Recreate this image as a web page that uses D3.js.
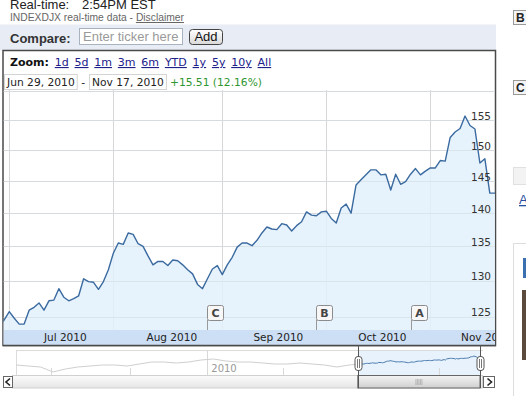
<!DOCTYPE html>
<html><head><meta charset="utf-8">
<script src="https://cdn.jsdelivr.net/npm/d3@7"></script>
<style>body{margin:0;background:#fff;overflow:hidden}svg{display:block}</style>
</head><body>
<svg id="c" width="526" height="396"></svg>
<script>
// ---------------- DATA ----------------
const dates = [
"2010-06-29","2010-06-30",
"2010-07-01","2010-07-02","2010-07-06","2010-07-07","2010-07-08","2010-07-09","2010-07-12","2010-07-13","2010-07-14","2010-07-15","2010-07-16","2010-07-19","2010-07-20","2010-07-21","2010-07-22","2010-07-23","2010-07-26","2010-07-27","2010-07-28","2010-07-29","2010-07-30",
"2010-08-02","2010-08-03","2010-08-04","2010-08-05","2010-08-06","2010-08-09","2010-08-10","2010-08-11","2010-08-12","2010-08-13","2010-08-16","2010-08-17","2010-08-18","2010-08-19","2010-08-20","2010-08-23","2010-08-24","2010-08-25","2010-08-26","2010-08-27","2010-08-30","2010-08-31",
"2010-09-01","2010-09-02","2010-09-03","2010-09-07","2010-09-08","2010-09-09","2010-09-10","2010-09-13","2010-09-14","2010-09-15","2010-09-16","2010-09-17","2010-09-20","2010-09-21","2010-09-22","2010-09-23","2010-09-24","2010-09-27","2010-09-28","2010-09-29","2010-09-30",
"2010-10-01","2010-10-04","2010-10-05","2010-10-06","2010-10-07","2010-10-08","2010-10-11","2010-10-12","2010-10-13","2010-10-14","2010-10-15","2010-10-18","2010-10-19","2010-10-20","2010-10-21","2010-10-22","2010-10-25","2010-10-26","2010-10-27","2010-10-28","2010-10-29",
"2010-11-01","2010-11-02","2010-11-03","2010-11-04","2010-11-05","2010-11-08","2010-11-09","2010-11-10","2010-11-11","2010-11-12","2010-11-15","2010-11-16","2010-11-17"
];
const closeValues = [
123.6,124.6,125.7,124.8,124.0,124.0,125.9,126.3,126.9,125.9,
127.2,127.3,128.9,127.7,127.2,127.5,127.9,130.3,129.9,129.8,
128.8,129.9,131.6,134.0,135.5,135.3,137.0,136.8,135.4,135.0,
133.6,132.3,132.8,132.8,132.2,133.0,132.9,132.3,131.6,131.0,
129.5,128.9,130.3,131.7,132.2,130.9,132.3,133.4,134.9,135.5,
135.5,135.1,135.9,137.0,137.9,137.6,137.5,138.4,138.2,137.3,
138.1,138.7,140.2,139.7,139.6,140.2,140.3,139.2,138.5,140.8,
141.4,140.0,144.4,145.2,146.0,146.8,146.8,146.0,146.1,143.6,
146.1,144.5,144.9,146.1,147.0,146.0,146.6,147.1,147.1,148.3,
148.2,152.1,153.0,153.6,155.7,154.1,153.5,147.9,148.6,143.1
];
const yGridValues = [125,130,135,140,145,150,155,160];
const yTickLabels = ["125","130","135","140","145","150","155"];
const monthStartDates = ["2010-07-01","2010-08-02","2010-09-01","2010-10-01","2010-11-01"];
const monthLabels = ["Jul 2010","Aug 2010","Sep 2010","Oct 2010","Nov 2010"];
const flagLabels = ["C","B","A"];
const flagDates = ["2010-08-27","2010-09-29","2010-10-26"];
const zoomLinks = ["1d","5d","1m","3m","6m","YTD","1y","5y","10y","All"];
const rangeStart = "Jun 29, 2010";
const rangeEnd = "Nov 17, 2010";
const changeText = "+15.51 (12.16%)";
// navigator: history before the range, one value every 10 trading days (offsets from Jun 29, 2010)
const navHistoryOffsets = [-277,-267,-257,-247,-237,-227,-217,-207,-197,-187,-177,-167,-157,-147,-137,-127,-117,-107,-97,-87,-77,-67,-57,-47,-37,-27,-17,-7];
const navHistoryValues = [120,116,112,92,104,112,116,120,120,116,124,132,132,128,132,140,144,136,132,132,128,124,124,128,124,120,112,120];
const navQuarterOffsets = [-249,-185,-61,66];
const navYearOffset = -122;
const navYearLabel = "2010";

// ---------------- SETUP ----------------
const svg = d3.select("#c");
const SANS = "'DejaVu Sans', Verdana, sans-serif";
const ARIAL = "'Liberation Sans', Arial, sans-serif";
const plot = {left:3.5, right:495, top:90, bottom:330};
const x = d3.scaleLinear().domain([0, dates.length-1]).range([-0.6, 489.8]);
const y = d3.scaleLog().domain([123.2, 160.2]).range([plot.bottom, plot.top]);
const idx = d => dates.indexOf(d);

const defs = svg.append("defs");
defs.append("clipPath").attr("id","plotClip").append("rect")
  .attr("x",plot.left).attr("y",plot.top).attr("width",plot.right-plot.left).attr("height",plot.bottom-plot.top);
defs.append("clipPath").attr("id","bandClip").append("rect")
  .attr("x",plot.left).attr("y",plot.bottom).attr("width",plot.right-plot.left).attr("height",15);
const g1 = defs.append("linearGradient").attr("id","btnGrad").attr("x1",0).attr("y1",0).attr("x2",0).attr("y2",1);
g1.append("stop").attr("offset","0").attr("stop-color","#ffffff");
g1.append("stop").attr("offset","1").attr("stop-color","#d9d9d9");
const g2 = defs.append("linearGradient").attr("id","trackGrad").attr("x1",0).attr("y1",0).attr("x2",0).attr("y2",1);
g2.append("stop").attr("offset","0").attr("stop-color","#fbfbfb");
g2.append("stop").attr("offset","1").attr("stop-color","#e6e6e6");
const g3 = defs.append("linearGradient").attr("id","thumbGrad").attr("x1",0).attr("y1",0).attr("x2",0).attr("y2",1);
g3.append("stop").attr("offset","0").attr("stop-color","#f4f4f4");
g3.append("stop").attr("offset","1").attr("stop-color","#cfcfcf");

// ---------------- HEADER ----------------
const hdr = svg.append("text").attr("x",10).attr("y",8.5).attr("font-family",ARIAL).attr("font-size",13).attr("fill","#222");
hdr.append("tspan").text("Real-time:");
hdr.append("tspan").attr("x",82).text("2:54PM EST");
const sub = svg.append("text").attr("x",10).attr("y",21).attr("font-family",ARIAL).attr("font-size",10.3).attr("fill","#666");
sub.append("tspan").text("INDEXDJX real-time data - ");
sub.append("tspan").attr("text-decoration","underline").text("Disclaimer");

// compare bar
svg.append("rect").attr("x",0).attr("y",24.5).attr("width",496).attr("height",26).attr("fill","#e7ecf5");
svg.append("text").attr("x",10).attr("y",42.5).attr("font-family",ARIAL).attr("font-weight","bold").attr("font-size",13).attr("fill","#333").text("Compare:");
svg.append("rect").attr("x",79.5).attr("y",28.5).attr("width",103).attr("height",16).attr("fill","#fff").attr("stroke","#a9b3c0");
svg.append("text").attr("x",83).attr("y",41).attr("font-family",ARIAL).attr("font-size",13).attr("fill","#9a9a9a").text("Enter ticker here");
svg.append("rect").attr("x",189.5).attr("y",29.5).attr("width",33).attr("height",15).attr("rx",3).attr("fill","url(#btnGrad)").attr("stroke","#444");
svg.append("text").attr("x",206).attr("y",41).attr("text-anchor","middle").attr("font-family",ARIAL).attr("font-size",13).attr("fill","#111").text("Add");

// chart frame
svg.append("rect").attr("x",3).attr("y",50.5).attr("width",492.5).attr("height",295).attr("fill","#fff").attr("stroke","#4a4a4a").attr("stroke-width",1.5);

// zoom row
const zr = svg.append("g").attr("font-family",SANS).attr("font-size",11);
const zl = zr.append("text").attr("x",10).attr("y",66).attr("font-weight","bold").attr("fill","#111").text("Zoom:");
let zx = 10 + zl.node().getComputedTextLength() + 5.8;
zoomLinks.forEach(t => {
  const el = zr.append("text").attr("x",zx).attr("y",66).attr("fill","#20208a").attr("text-decoration","underline").text(t);
  zx += el.node().getComputedTextLength() + 5.8;
});

// date row
const dr = svg.append("g").attr("font-family",SANS).attr("font-size",10.7);
const t1 = dr.append("text").attr("x",7).attr("y",86).attr("fill","#222").text(rangeStart);
const w1 = t1.node().getComputedTextLength();
dr.insert("rect","text").attr("x",4.5).attr("y",74.5).attr("width",w1+5).attr("height",15).attr("fill","none").attr("stroke","#d4d4d4");
const dashX = 4.5 + w1 + 5 + 4;
const td = dr.append("text").attr("x",dashX).attr("y",86).attr("fill","#222").text("-");
const b2 = dashX + td.node().getComputedTextLength() + 4;
const t2 = dr.append("text").attr("x",b2+3).attr("y",86).attr("fill","#222").text(rangeEnd);
const w2 = t2.node().getComputedTextLength();
dr.insert("rect","text").attr("x",b2+0.5).attr("y",74.5).attr("width",w2+5).attr("height",15).attr("fill","none").attr("stroke","#d4d4d4");
dr.append("text").attr("x",b2+w2+9).attr("y",86).attr("fill","#2f962f").text(changeText);

// ---------------- PLOT ----------------
const pg = svg.append("g").attr("clip-path","url(#plotClip)");
pg.selectAll("line.h").data(yGridValues).enter().append("line")
  .attr("x1",plot.left).attr("x2",plot.right)
  .attr("y1",d=>Math.round(y(d))+0.5).attr("y2",d=>Math.round(y(d))+0.5)
  .attr("stroke","#d6d6d6").attr("stroke-width",1);
pg.selectAll("line.v").data(monthStartDates).enter().append("line")
  .attr("x1",d=>Math.round(x(idx(d)))+0.5).attr("x2",d=>Math.round(x(idx(d)))+0.5)
  .attr("y1",plot.top).attr("y2",plot.bottom)
  .attr("stroke","#d6d6d6").attr("stroke-width",1);

const pts = closeValues.map((v,i)=>[x(i), y(v)]);
pts.push([plot.right, y(closeValues[closeValues.length-1])]);
const area = d3.area().x(d=>d[0]).y0(plot.bottom).y1(d=>d[1]);
const line = d3.line().x(d=>d[0]).y(d=>d[1]);
pg.append("path").attr("d",area(pts)).attr("fill","#e3f1fc").attr("fill-opacity",0.85);
pg.selectAll("line.h2").data(yGridValues).enter().append("line")
  .attr("x1",plot.left).attr("x2",plot.right)
  .attr("y1",d=>Math.round(y(d))+0.5).attr("y2",d=>Math.round(y(d))+0.5)
  .attr("stroke","#d6dde4").attr("stroke-opacity",0.6);
pg.append("path").attr("d",line(pts)).attr("fill","none").attr("stroke","#3a6aa0").attr("stroke-width",1.4).attr("stroke-linejoin","round");

svg.append("g").selectAll("text").data(yTickLabels).enter().append("text")
  .attr("x",491).attr("y",d=>y(+d)-0.5).attr("text-anchor","end")
  .attr("font-family",SANS).attr("font-size",10.5).attr("fill","#333").text(d=>d);

const fg = svg.append("g");
flagDates.forEach((d,k)=>{
  const fx = Math.round(x(idx(d)))+0.5;
  fg.append("line").attr("x1",fx).attr("x2",fx).attr("y1",320).attr("y2",plot.bottom).attr("stroke","#999");
  fg.append("rect").attr("x",fx).attr("y",305.5).attr("width",16).attr("height",15).attr("rx",2)
    .attr("fill","#f7f7f7").attr("stroke","#8c8c8c");
  fg.append("text").attr("x",fx+8).attr("y",317).attr("text-anchor","middle")
    .attr("font-family",SANS).attr("font-weight","bold").attr("font-size",11).attr("fill","#444").text(flagLabels[k]);
});

svg.append("rect").attr("x",plot.left).attr("y",plot.bottom).attr("width",plot.right-plot.left).attr("height",15).attr("fill","#cddff4");
const bg = svg.append("g").attr("clip-path","url(#bandClip)");
monthStartDates.forEach((d,k)=>{
  const i0 = idx(d);
  const i1 = k+1 < monthStartDates.length ? idx(monthStartDates[k+1]) : i0 + 21;
  const cx = (x(i0)+x(i1))/2 + 4;
  bg.append("text").attr("x",cx).attr("y",341).attr("text-anchor","middle")
    .attr("font-family",SANS).attr("font-size",10.5).attr("fill","#222").text(monthLabels[k]);
});
svg.append("line").attr("x1",3).attr("x2",496).attr("y1",345.5).attr("y2",345.5).attr("stroke","#4a4a4a").attr("stroke-width",1.5);

// ---------------- NAVIGATOR ----------------
const nx = d3.scaleLinear().domain([navHistoryOffsets[0], dates.length-1]).range([16, 480]);
const ny = d3.scaleLinear().domain([80,160]).range([375,355]);
const nav = svg.append("g");
nav.append("line").attr("x1",16).attr("x2",483).attr("y1",350.5).attr("y2",350.5).attr("stroke","#dcdcdc");
nav.append("line").attr("x1",16.5).attr("x2",16.5).attr("y1",350).attr("y2",375).attr("stroke","#dcdcdc");
nav.append("rect").attr("x",nx(0)).attr("y",351).attr("width",nx(dates.length-1)-nx(0)).attr("height",24).attr("fill","#e7f2fc");
navQuarterOffsets.forEach(o=>{
  nav.append("line").attr("x1",Math.round(nx(o))+0.5).attr("x2",Math.round(nx(o))+0.5).attr("y1",368).attr("y2",375).attr("stroke","#d8d8d8");
});
nav.append("line").attr("x1",Math.round(nx(navYearOffset))+0.5).attr("x2",Math.round(nx(navYearOffset))+0.5).attr("y1",351).attr("y2",375).attr("stroke","#d8d8d8");
nav.append("text").attr("x",nx(navYearOffset)+4).attr("y",371.5).attr("font-family",SANS).attr("font-size",10).attr("fill","#999").text(navYearLabel);
const hist = navHistoryOffsets.map((o,k)=>[nx(o), ny(navHistoryValues[k])]);
hist.push([nx(0), ny(closeValues[0])]);
nav.append("path").attr("d",d3.line()(hist)).attr("fill","none").attr("stroke","#cfcfcf");
const sel = closeValues.map((v,i)=>[nx(i), ny(v)]);
nav.append("path").attr("d",d3.line()(sel)).attr("fill","none").attr("stroke","#4a7aae");
nav.append("rect").attr("x",12.5).attr("y",375.5).attr("width",470).attr("height",12.5).attr("fill","url(#trackGrad)").attr("stroke","#d0d0d0");
nav.append("rect").attr("x",nx(0)).attr("y",375.5).attr("width",nx(dates.length-1)-nx(0)).attr("height",12.5).attr("fill","url(#thumbGrad)").attr("stroke","#666");
const gripC = (nx(0)+nx(dates.length-1))/2;
[-3,-1.5,0,1.5,3].forEach(o=>nav.append("line").attr("x1",gripC+o).attr("x2",gripC+o).attr("y1",379).attr("y2",385).attr("stroke","#999").attr("stroke-width",0.6));
[0, dates.length-1].forEach(i=>{
  const sx = Math.round(nx(i))+0.5;
  nav.append("line").attr("x1",sx).attr("x2",sx).attr("y1",345).attr("y2",388).attr("stroke","#555");
  nav.append("rect").attr("x",sx-3.5).attr("y",356.5).attr("width",7).attr("height",14).attr("rx",3).attr("fill","#fff").attr("stroke","#555");
  nav.append("line").attr("x1",sx-1).attr("x2",sx-1).attr("y1",359).attr("y2",368).attr("stroke","#555").attr("stroke-width",0.8);
  nav.append("line").attr("x1",sx+1).attr("x2",sx+1).attr("y1",359).attr("y2",368).attr("stroke","#555").attr("stroke-width",0.8);
});
nav.append("rect").attr("x",3.5).attr("y",376.5).attr("width",9).attr("height",11).attr("fill","#fff").attr("stroke","#666");
nav.append("path").attr("d","M10,378.5 L6,382 L10,385.5").attr("fill","none").attr("stroke","#222").attr("stroke-width",1.6);
nav.append("rect").attr("x",483.5).attr("y",376.5).attr("width",11).attr("height",11).attr("fill","#fff").attr("stroke","#666");
nav.append("path").attr("d","M487.5,378.5 L491.5,382 L487.5,385.5").attr("fill","none").attr("stroke","#222").attr("stroke-width",1.6);

// ---------------- RIGHT SIDE FRAGMENTS ----------------
const rs = svg.append("g");
rs.append("rect").attr("x",513.5).attr("y",10.5).attr("width",14).attr("height",14).attr("fill","#f4f4f4").attr("stroke","#999");
rs.append("text").attr("x",516).attr("y",22).attr("font-family",ARIAL).attr("font-weight","bold").attr("font-size",12).attr("fill","#222").text("B");
rs.append("rect").attr("x",513.5).attr("y",80.5).attr("width",14).attr("height",14).attr("fill","#f4f4f4").attr("stroke","#999");
rs.append("text").attr("x",516).attr("y",92).attr("font-family",ARIAL).attr("font-weight","bold").attr("font-size",12).attr("fill","#222").text("C");
rs.append("rect").attr("x",513.5).attr("y",167.5).attr("width",14).attr("height",17).attr("fill","#f3f3f3").attr("stroke","#e0e0e0");
rs.append("text").attr("x",519).attr("y",204).attr("font-family",ARIAL).attr("font-size",13).attr("fill","#2a4fa0").attr("text-decoration","underline").text("A");
rs.append("line").attr("x1",513.5).attr("x2",513.5).attr("y1",243).attr("y2",396).attr("stroke","#ddd");
rs.append("line").attr("x1",513).attr("x2",526).attr("y1",243.5).attr("y2",243.5).attr("stroke","#ddd");
rs.append("rect").attr("x",523).attr("y",258).attr("width",3).attr("height",20).attr("fill","#3a6fb0");
rs.append("rect").attr("x",522).attr("y",290).attr("width",4).attr("height",70).attr("fill","#5b4b3e");
</script>
</body></html>
